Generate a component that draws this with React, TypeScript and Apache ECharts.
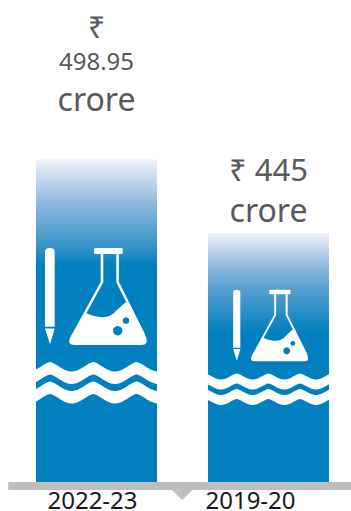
import React, { useEffect, useRef } from "react";
import * as echarts from "echarts";

const categories = ["2022-23", "2019-20"];
const values = [498.95, 445];
const valueLabels = ["{sym|₹}\n{num|498.95}\n{unit|crore}", "{big|₹ 445}\n{unit|crore}"];
const labelDistances = [40, 3];
const labelShifts = [8, 36];
const gradientStops: [number, string][][] = [
  [[0, "#eef2f8"], [0.13, "#95bbdf"], [0.28, "#2f90c6"], [0.33, "#0080bf"], [1, "#0080bf"]],
  [[0, "#eef2f8"], [0.1, "#a8c6e4"], [0.22, "#5a9fd0"], [0.4, "#0080bf"], [1, "#0080bf"]],
];

const WHITE = "#ffffff";
const BLUE = "#0080bf";
const Z = 20;

const liquidPath =
  "M86,313 C96,318 108,319 114,313 C118,309 122,305 126,302 L145,335 Q150,345 141,345 L75,345 Q66,345 71,336 Z";
const pencilPath =
  "M45,252 Q45,248 49.8,248 Q54.7,248 54.7,252 L54.7,326.7 L45,326.7 Z M45,328.5 L54.7,328.5 L50,344.3 Z";

function wave(x0: number, x1: number, peakX: number, period: number, yPeak: number, amp: number, thick: number) {
  const top: number[][] = [];
  const bottom: number[][] = [];
  for (let x = x0; x <= x1; x += 1) {
    const c = (1 - Math.cos(((x - peakX) / period) * 2 * Math.PI)) / 2;
    const y = yPeak + amp * Math.pow(c, 0.75);
    top.push([x, y]);
    bottom.unshift([x, y + thick]);
  }
  return { type: "polygon", z: Z, shape: { points: [...top, ...bottom] }, style: { fill: WHITE } };
}

function icon(x: number, y: number, scale: number) {
  const lw = 2.6;
  return {
    type: "group",
    x,
    y,
    scaleX: scale,
    scaleY: scale,
    children: [
      { type: "pencilIcon", z: Z, style: { fill: WHITE } },
      { type: "rect", z: Z, shape: { x: 94, y: 248, width: 28.7, height: 6, r: 1 }, style: { fill: WHITE } },
      {
        type: "polyline",
        z: Z,
        shape: { points: [[102, 254], [102, 282], [72, 337]] },
        style: { stroke: WHITE, lineWidth: lw, fill: "none" },
      },
      {
        type: "polyline",
        z: Z,
        shape: { points: [[117.6, 254], [117.6, 282], [144, 335]] },
        style: { stroke: WHITE, lineWidth: lw, fill: "none" },
      },
      { type: "liquidIcon", z: Z, style: { fill: WHITE } },
      { type: "circle", z: Z + 1, shape: { cx: 117.7, cy: 330.7, r: 4.7 }, style: { fill: BLUE } },
      { type: "circle", z: Z + 1, shape: { cx: 126, cy: 320.7, r: 3.3 }, style: { fill: BLUE } },
    ],
  };
}

export default function App() {
  const ref = useRef<HTMLDivElement>(null);
  useEffect(() => {
    document.body.style.margin = "0";
    echarts.graphic.registerShape("pencilIcon", echarts.graphic.extendPath(pencilPath, {}));
    echarts.graphic.registerShape("liquidIcon", echarts.graphic.extendPath(liquidPath, {}));
    const chart = echarts.init(ref.current!, undefined, { renderer: "svg" });
    chart.setOption({
      animation: false,
      backgroundColor: "#ffffff",
      textStyle: { fontFamily: "Noto Sans" },
      grid: { left: 10.5, width: 344, top: 0, height: 482 },
      xAxis: {
        type: "category",
        data: categories,
        axisLine: { show: false },
        axisTick: { show: false },
        z: 10,
        axisLabel: {
          margin: 7,
          interval: 0,
          hideOverlap: false,
          formatter: (v: string, i: number) => `{l${i}|${v}}`,
          rich: {
            l0: { fontSize: 24, lineHeight: 20, color: "#1a1a1a", fontFamily: "Noto Sans", padding: [0, labelShifts[0], 0, 0] },
            l1: { fontSize: 24, lineHeight: 20, color: "#1a1a1a", fontFamily: "Noto Sans", padding: [0, labelShifts[1], 0, 0] },
          },
        },
      },
      yAxis: { type: "value", min: 263.5, max: 615, show: false, splitLine: { show: false } },
      series: [
        {
          type: "bar",
          barWidth: 121,
          data: values.map((value, i) => ({
            value,
            itemStyle: {
              color: new echarts.graphic.LinearGradient(
                0, 0, 0, 1,
                gradientStops[i].map(([offset, color]) => ({ offset, color }))
              ),
            },
            label: { distance: labelDistances[i], formatter: valueLabels[i] },
          })),
          label: {
            show: true,
            position: "top",
            align: "center",
            color: "#58595b",
            fontFamily: "Noto Sans",
            rich: {
              sym: { fontSize: 31, lineHeight: 33, color: "#58595b", fontFamily: "Noto Sans", align: "center" },
              num: { fontSize: 24, lineHeight: 36, color: "#58595b", fontFamily: "Noto Sans", align: "center" },
              unit: { fontSize: 32, lineHeight: 41, color: "#58595b", fontFamily: "Noto Sans", align: "center" },
              big: { fontSize: 31, lineHeight: 40, color: "#58595b", fontFamily: "Noto Sans", align: "center" },
            },
          },
        },
      ],
      graphic: [
        { type: "rect", z: 5, shape: { x: 8.3, y: 482, width: 343, height: 8 }, style: { fill: "#bdbebf" } },
        { type: "polygon", z: 5, shape: { points: [[172, 490], [192.5, 490], [182, 500]] }, style: { fill: "#bdbebf" } },
        icon(0, 0, 1),
        icon(200, 107, 0.737),
        wave(36, 157, 50, 43.3, 362, 9.5, 12.5),
        wave(36, 157, 50, 43.3, 381.5, 9.5, 12.5),
        wave(208, 329, 236.7, 31.7, 373.5, 6, 10),
        wave(208, 329, 236.7, 31.7, 389, 6, 10),
      ],
    });
    return () => chart.dispose();
  }, []);
  return (
    <div style={{ width: 351, height: 511, position: "absolute", left: 0, top: 0, overflow: "hidden" }}>
      <div ref={ref} style={{ width: 358, height: 511 }} />
    </div>
  );
}
